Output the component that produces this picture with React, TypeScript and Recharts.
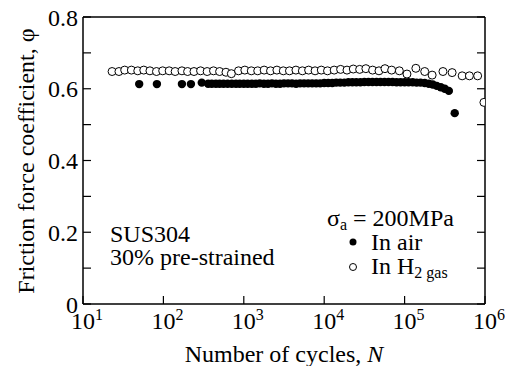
import React from 'react';
import { ScatterChart, Scatter, XAxis, YAxis } from 'recharts';

// ---- data ----
const xTicks = [10, 100, 1000, 10000, 100000, 1000000];
const yTicks = [0, 0.1, 0.2, 0.3, 0.4, 0.5, 0.6, 0.7, 0.8];

// In air (filled circles)
const airN = [
  50, 83, 170, 220, 300,
  360, 400, 450, 500, 560, 630, 710, 800, 890, 1000,
  1120, 1260, 1410, 1580, 1780, 2000, 2240, 2510, 2820, 3160,
  3550, 3980, 4470, 5010, 5620, 6310, 7080, 7940, 8910, 10000,
  11200, 12600, 14100, 15800, 17800, 20000, 22400, 25100, 28200, 31600,
  35500, 39800, 44700, 50100, 56200, 63100, 70800, 79400, 89100, 100000,
  112000, 126000, 141000, 158000, 178000, 200000, 224000, 251000, 282000, 316000,
  355000, 420000,
];
const airPhi = [
  0.613, 0.613, 0.613, 0.613, 0.617,
  0.614, 0.614, 0.614, 0.614, 0.614, 0.614, 0.614, 0.614, 0.614, 0.614,
  0.614, 0.614, 0.614, 0.615, 0.614, 0.614, 0.615, 0.614, 0.614, 0.615,
  0.615, 0.615, 0.614, 0.615, 0.615, 0.615, 0.615, 0.615, 0.615, 0.616,
  0.616, 0.616, 0.617, 0.617, 0.617, 0.618, 0.618, 0.618, 0.618, 0.619,
  0.619, 0.619, 0.619, 0.619, 0.619, 0.619, 0.619, 0.618, 0.618, 0.618,
  0.618, 0.618, 0.617, 0.617, 0.616, 0.614, 0.612, 0.608, 0.604, 0.600,
  0.594, 0.532,
];

// In H2 gas (open circles)
const h2N = [
  23, 28, 33, 40, 48, 57, 68, 82, 98, 118,
  140, 170, 200, 240, 290, 350, 420, 500, 600, 700,
  860, 1030, 1240, 1490, 1790, 2150, 2580, 3100, 3700, 4450,
  5350, 6400, 7700, 9200, 11000, 13300, 16000, 19200, 23000, 27600,
  33000, 40000, 48000, 57000, 69000, 86000, 107000, 138000, 178000, 220000,
  300000, 390000, 520000, 640000, 810000, 970000,
];
const h2Phi = [
  0.648, 0.648, 0.652, 0.652, 0.650, 0.652, 0.650, 0.648, 0.650, 0.650,
  0.648, 0.650, 0.648, 0.648, 0.650, 0.648, 0.650, 0.648, 0.646, 0.642,
  0.650, 0.652, 0.650, 0.650, 0.652, 0.650, 0.652, 0.650, 0.650, 0.652,
  0.650, 0.652, 0.650, 0.652, 0.650, 0.652, 0.654, 0.652, 0.655, 0.654,
  0.656, 0.652, 0.650, 0.656, 0.652, 0.650, 0.641, 0.657, 0.648, 0.638,
  0.648, 0.645, 0.636, 0.636, 0.636, 0.562,
];

const airData = airN.map((n, i) => ({ n, phi: airPhi[i] }));
const h2Data = h2N.map((n, i) => ({ n, phi: h2Phi[i] }));

const FONT = "'Liberation Serif', 'DejaVu Serif', serif";
const TXT = { fontFamily: FONT };

const FilledDot = (p: any) => <circle cx={p.cx} cy={p.cy} r={4.2} fill="#000" />;
const OpenDot = (p: any) => (
  <circle cx={p.cx} cy={p.cy} r={4} fill="#fff" stroke="#000" strokeWidth={1} />
);

const XTick = (p: any) => {
  const exp = Math.round(Math.log10(p.payload.value));
  return (
    <text x={p.x - 12} y={p.y} dy={21} fontSize={24} style={TXT} fill="#000">
      <tspan>10</tspan>
      <tspan fontSize={16} dy={-9}>{exp}</tspan>
    </text>
  );
};

const yFmt = (v: number) => {
  const k = Math.round(v * 10);
  if (k % 2 !== 0) return '';
  return k === 0 ? '0' : v.toFixed(1);
};

const axisLine = { stroke: '#000', strokeWidth: 1.5 };
const tickLine = { stroke: '#000', strokeWidth: 1.2 };

export default function App() {
  return (
    <div style={{ position: 'relative', width: 513, height: 374, margin: -8, background: '#fff', fontFamily: FONT }}>
      <ScatterChart width={513} height={374} margin={{ top: 0, right: 0, bottom: 0, left: 0 }} style={TXT}>
        <XAxis
          dataKey="n"
          type="number"
          scale="log"
          domain={[10, 1000000]}
          ticks={xTicks}
          allowDataOverflow
          height={70}
          axisLine={axisLine}
          tickLine={tickLine}
          tickSize={-8}
          tickMargin={12}
          tick={<XTick />}
          interval={0}
        />
        <XAxis
          xAxisId="top"
          orientation="top"
          type="number"
          scale="log"
          domain={[10, 1000000]}
          ticks={xTicks}
          allowDataOverflow
          height={17}
          axisLine={axisLine}
          tickLine={tickLine}
          tickSize={-8}
          tickFormatter={() => ''}
          interval={0}
        />
        <YAxis
          dataKey="phi"
          type="number"
          domain={[0, 0.8]}
          ticks={yTicks}
          allowDataOverflow
          width={83}
          axisLine={axisLine}
          tickLine={tickLine}
          tickSize={-8}
          tickMargin={13}
          tickFormatter={yFmt}
          tick={{ fontSize: 24, fill: '#000', style: TXT }}
          interval={0}
        />
        <YAxis
          yAxisId="right"
          orientation="right"
          type="number"
          domain={[0, 0.8]}
          ticks={yTicks}
          allowDataOverflow
          width={28}
          axisLine={axisLine}
          tickLine={tickLine}
          tickSize={-8}
          tickFormatter={() => ''}
          interval={0}
        />
        <Scatter data={airData} shape={FilledDot} isAnimationActive={false} />
        <Scatter data={h2Data} shape={OpenDot} isAnimationActive={false} />
      </ScatterChart>
      <svg
        width={513}
        height={374}
        style={{ position: 'absolute', left: 0, top: 0, pointerEvents: 'none', fontFamily: FONT }}
        fill="#000"
      >
        <text x={34} y={161} fontSize={24} textAnchor="middle" transform="rotate(-90 34 161)" style={TXT}>
          Friction force coefficient, φ
        </text>
        <text x={284} y={362} fontSize={24} textAnchor="middle" style={TXT}>
          Number of cycles, <tspan fontStyle="italic">N</tspan>
        </text>
        <text x={110} y={242} fontSize={24} style={TXT}>SUS304</text>
        <text x={110} y={265} fontSize={24} style={TXT}>30% pre-strained</text>
        <text x={327} y={226} fontSize={24} style={TXT}>
          σ<tspan fontSize={16} dy={4}>a</tspan>
          <tspan dy={-4}> = 200MPa</tspan>
        </text>
        <circle cx={353} cy={242} r={3.5} fill="#000" />
        <text x={371} y={250} fontSize={24} style={TXT}>In air</text>
        <circle cx={353} cy={267} r={3.5} fill="#fff" stroke="#000" strokeWidth={1} />
        <text x={371} y={274} fontSize={24} style={TXT}>
          In H<tspan fontSize={16} dy={4}>2 gas</tspan>
        </text>
      </svg>
    </div>
  );
}
